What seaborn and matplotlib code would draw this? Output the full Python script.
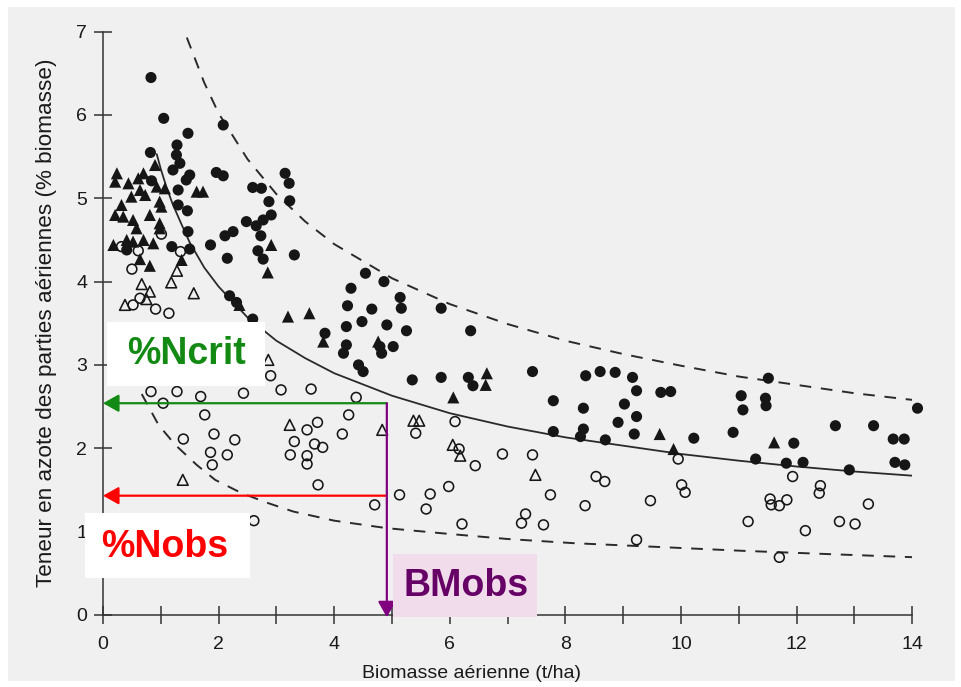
import numpy as np
import pandas as pd
import seaborn as sns
import matplotlib.pyplot as plt
from matplotlib.patches import Rectangle

# points (biomass t/ha, N %)
filled_circle_x = [0.83, 1.05, 1.47, 2.08, 1.28, 1.27, 1.33, 0.82, 1.21, 1.50, 1.44, 1.96, 2.08, 0.84, 1.30,
                   2.59, 2.74, 3.15, 3.22, 3.23, 2.87, 1.30, 1.46, 1.47, 2.48, 2.65, 2.77, 2.91, 2.11, 2.25,
                   2.73, 2.68, 2.77, 3.31, 1.86, 2.15, 1.19, 1.50, 0.41, 2.19, 2.31, 2.59, 4.54, 4.86, 4.29,
                   4.23, 4.65, 5.14, 5.16, 3.84, 4.21, 4.48, 4.91, 5.02, 4.79, 4.82, 4.21, 4.16, 4.42, 4.50,
                   5.85, 5.25, 6.36, 5.35, 5.85, 6.32, 6.40, 7.43, 7.79, 7.79, 8.35, 8.60, 8.86, 9.16, 9.23,
                   8.31, 8.31, 8.26, 9.02, 8.91, 9.23, 8.69, 9.19, 9.65, 9.82, 10.22, 11.51, 11.04, 11.07,
                   11.46, 11.47, 14.09, 10.90, 11.29, 11.95, 11.82, 12.11, 12.67, 13.33, 12.91, 13.67, 13.86,
                   13.70, 13.87]
filled_circle_y = [6.45, 5.96, 5.78, 5.88, 5.64, 5.52, 5.42, 5.55, 5.34, 5.28, 5.22, 5.31, 5.27, 5.21, 5.10,
                   5.13, 5.12, 5.30, 5.18, 4.97, 4.96, 4.92, 4.85, 4.60, 4.72, 4.67, 4.74, 4.80, 4.55, 4.60,
                   4.55, 4.37, 4.27, 4.32, 4.44, 4.28, 4.42, 4.39, 4.38, 3.83, 3.75, 3.55, 4.10, 4.00, 3.92,
                   3.71, 3.67, 3.81, 3.68, 3.38, 3.46, 3.52, 3.48, 3.22, 3.22, 3.14, 3.24, 3.14, 3.00, 2.92,
                   3.68, 3.41, 3.41, 2.82, 2.85, 2.85, 2.75, 2.92, 2.57, 2.20, 2.87, 2.92, 2.91, 2.85, 2.69,
                   2.48, 2.23, 2.14, 2.53, 2.31, 2.38, 2.10, 2.17, 2.67, 2.68, 2.12, 2.84, 2.63, 2.46,
                   2.60, 2.51, 2.48, 2.19, 1.87, 2.06, 1.82, 1.83, 2.27, 2.27, 1.74, 2.11, 2.11,
                   1.83, 1.80]

filled_tri_x = [0.24, 0.21, 0.70, 0.90, 0.93, 1.07, 0.49, 0.73, 0.32, 0.98, 1.62, 1.73, 0.21, 0.35, 0.52,
                0.81, 1.01, 0.58, 0.98, 0.98, 0.18, 0.41, 0.52, 0.70, 0.87, 0.64, 0.81, 1.36, 2.91, 2.85,
                2.36, 3.20, 3.57, 3.81, 4.76, 6.64, 6.62, 6.06, 9.63, 9.87, 11.61, 0.61, 0.64, 0.44]
filled_tri_y = [5.30, 5.20, 5.30, 5.40, 5.14, 5.12, 5.02, 5.04, 4.92, 4.96, 5.08, 5.08, 4.80, 4.78, 4.74,
                4.80, 4.90, 4.64, 4.64, 4.70, 4.44, 4.50, 4.48, 4.50, 4.46, 4.27, 4.19, 4.26, 4.44, 4.11,
                3.72, 3.58, 3.62, 3.28, 3.28, 2.90, 2.76, 2.61, 2.17, 1.99, 2.07, 5.24, 5.10, 5.18]

open_circle_x = [0.32, 0.61, 0.50, 1.01, 1.34, 0.64, 0.52, 0.91, 1.14,
                 0.83, 1.28, 1.04, 1.69, 2.43, 2.90, 3.08, 3.60, 4.38, 1.76, 1.39, 1.92, 2.28, 1.86, 2.15,
                 1.89, 3.31, 3.24, 3.71, 3.53, 3.66, 3.80, 3.53, 3.53, 3.72, 4.14, 4.25, 4.70, 5.13, 2.61,
                 6.09, 5.41, 6.16, 6.91, 7.43, 6.44, 5.98, 5.66, 5.59, 6.21, 7.74, 7.31, 7.24, 7.62, 8.34,
                 8.53, 8.68, 9.47, 9.95, 10.01, 10.07, 9.23,
                 11.93, 12.41, 12.39, 11.54, 11.56, 11.70, 11.83, 11.16, 12.15, 12.74, 13.01, 13.24, 11.70]
open_circle_y = [4.42, 4.37, 4.15, 4.57, 4.36, 3.80, 3.72, 3.67, 3.62,
                 2.68, 2.68, 2.54, 2.62, 2.66, 2.87, 2.70, 2.71, 2.61, 2.40, 2.11, 2.17, 2.10, 1.95, 1.92,
                 1.80, 2.08, 1.92, 2.31, 2.22, 2.05, 2.01, 1.91, 1.81, 1.56, 2.17, 2.40, 1.32, 1.44, 1.13,
                 2.32, 2.18, 1.99, 1.93, 1.92, 1.79, 1.54, 1.45, 1.27, 1.09, 1.44, 1.21, 1.10, 1.08, 1.31,
                 1.66, 1.60, 1.37, 1.87, 1.56, 1.47, 0.90,
                 1.66, 1.55, 1.46, 1.39, 1.32, 1.31, 1.38, 1.12, 1.01, 1.12, 1.09, 1.33, 0.69]

open_tri_x = [0.67, 0.81, 0.75, 0.38, 1.28, 1.18, 1.57, 2.86, 3.23, 4.83, 1.38, 5.37, 5.47, 6.05, 6.18, 7.48]
open_tri_y = [3.97, 3.88, 3.79, 3.72, 4.13, 3.99, 3.86, 3.06, 2.28, 2.22, 1.62, 2.33, 2.33, 2.04, 1.91, 1.68]

# curves read along their length
crit_x = [0.93, 1.0, 1.1, 1.2, 1.35, 1.5, 1.75, 2, 2.5, 3, 3.5, 4, 5, 6, 7, 8, 9, 10, 11, 12, 13, 14]
crit_y = [5.53, 5.35, 5.13, 4.94, 4.70, 4.47, 4.17, 3.94, 3.57, 3.29, 3.08, 2.90, 2.63, 2.42, 2.26, 2.13,
          2.03, 1.93, 1.85, 1.78, 1.72, 1.67]
upper_x = [1.45, 1.75, 2, 2.5, 3, 3.5, 4, 5, 6, 7, 8, 9, 10, 11, 12, 13, 14]
upper_y = [6.93, 6.39, 6.02, 5.47, 5.05, 4.72, 4.45, 4.04, 3.73, 3.49, 3.29, 3.13, 2.99, 2.86, 2.76, 2.66, 2.58]
lower_x = [0.67, 0.96, 1.25, 1.62, 1.94, 2.4, 2.86, 3.29, 4.0, 4.91, 6, 7, 8.14, 9.75, 11, 12.5, 14.07]
lower_y = [2.65, 2.28, 2.04, 1.80, 1.62, 1.46, 1.34, 1.24, 1.13, 1.04, 0.97, 0.91, 0.86, 0.81, 0.77, 0.73, 0.69]

bm_obs = 4.91
n_crit = 2.54
n_obs = 1.43

x_ticks = [0, 2, 4, 6, 8, 10, 12, 14]
x_minor = [1, 3, 5, 7, 9, 11, 13]
y_ticks = [0, 1, 2, 3, 4, 5, 6, 7]

sns.set_theme(style='ticks')
plt.rcParams['font.family'] = ['Liberation Sans', 'DejaVu Sans']

ink = '#161616'
fig = plt.figure(figsize=(9.61, 6.87), dpi=100)
fig.patch.set_facecolor('white')
fig.add_artist(Rectangle((8 / 961, 6 / 687), 947 / 961, 674 / 687, transform=fig.transFigure,
                         facecolor='#f0f0f0', edgecolor='none', zorder=-1))
ax = fig.add_axes([103 / 961, 1 - 614.8 / 687, 809.3 / 961, 583.1 / 687])
ax.set_facecolor('none')

sns.lineplot(x=crit_x, y=crit_y, color='#2a2a2a', lw=1.3, sort=False, estimator=None, ax=ax)
sns.lineplot(x=upper_x, y=upper_y, color='#2a2a2a', lw=1.4, linestyle=(0, (6, 5)), sort=False, estimator=None, ax=ax)
sns.lineplot(x=lower_x, y=lower_y, color='#2a2a2a', lw=1.4, linestyle=(0, (6, 5)), sort=False, estimator=None, ax=ax)

sns.scatterplot(x=filled_circle_x, y=filled_circle_y, marker='o', s=64, color=ink, edgecolor='none', linewidth=0,
                clip_on=False, zorder=3, ax=ax)
sns.scatterplot(x=filled_tri_x, y=filled_tri_y, marker='^', s=76, color=ink, edgecolor='none', linewidth=0,
                clip_on=False, zorder=3, ax=ax)
sns.scatterplot(x=open_circle_x, y=open_circle_y, marker='o', s=50, color=ink, facecolor='none', edgecolor=ink,
                linewidth=1.15, clip_on=False, zorder=3, ax=ax)
sns.scatterplot(x=open_tri_x, y=open_tri_y, marker='^', s=60, color=ink, facecolor='none', edgecolor=ink,
                linewidth=1.15, clip_on=False, zorder=3, ax=ax)

ax.set_xlim(0, 14)
ax.set_ylim(0, 7)
ax.set_xticks(x_ticks)
ax.set_xticks(x_minor, minor=True)
ax.set_yticks(y_ticks)
sns.despine(ax=ax)
for s in ['left', 'bottom']:
    ax.spines[s].set_color('#333333')
    ax.spines[s].set_linewidth(1.1)
ax.tick_params(axis='both', which='both', direction='inout', length=13, width=1.1, color='#333333',
               labelcolor='#1a1a1a', labelsize=14)
ax.tick_params(axis='x', which='both', pad=9)
ax.tick_params(axis='y', pad=5)

ax.set_xlabel('Biomasse aérienne (t/ha)', fontsize=14, color='#1a1a1a')
ax.xaxis.set_label_coords(0.455, -0.086)
ax.set_ylabel('Teneur en azote des parties aériennes (% biomasse)', fontsize=16.2, color='#1a1a1a')
ax.yaxis.set_label_coords(-0.057, 0.5)

# reading arrows
green = '#138a13'
purple = '#800080'
ax.annotate('', xy=(0, n_crit), xytext=(bm_obs, n_crit), annotation_clip=False, zorder=5,
            arrowprops=dict(arrowstyle='-|>,head_length=0.5,head_width=0.28', mutation_scale=19,
                            color=green, lw=1.6, shrinkA=0, shrinkB=0))
ax.annotate('', xy=(0, n_obs), xytext=(bm_obs, n_obs), annotation_clip=False, zorder=5,
            arrowprops=dict(arrowstyle='-|>,head_length=0.5,head_width=0.28', mutation_scale=19,
                            color='#ff0000', lw=1.6, shrinkA=0, shrinkB=0))
ax.annotate('', xy=(bm_obs, -0.03), xytext=(bm_obs, n_crit), annotation_clip=False, zorder=5,
            arrowprops=dict(arrowstyle='-|>,head_length=0.5,head_width=0.28', mutation_scale=19,
                            color=purple, lw=1.6, shrinkA=0, shrinkB=0))

# label boxes
ax.add_patch(Rectangle((0.07, 2.75), 2.73, 0.77, facecolor='white', edgecolor='none', clip_on=False, zorder=6))
ax.text(1.44, 3.13, '%Ncrit', color=green, fontsize=27, fontweight='bold', ha='center', va='center', zorder=7)
ax.add_patch(Rectangle((-0.32, 0.44), 2.86, 0.78, facecolor='white', edgecolor='none', clip_on=False, zorder=6))
ax.text(1.07, 0.81, '%Nobs', color='#ff0000', fontsize=27, fontweight='bold', ha='center', va='center', zorder=7)
ax.add_patch(Rectangle((5.02, -0.03), 2.49, 0.76, facecolor='#f0dcea', edgecolor='none', clip_on=False, zorder=6))
ax.text(6.28, 0.35, 'BMobs', color='#660066', fontsize=27, fontweight='bold', ha='center', va='center', zorder=7)

fig.savefig('out.png', dpi=100, facecolor=fig.get_facecolor())
